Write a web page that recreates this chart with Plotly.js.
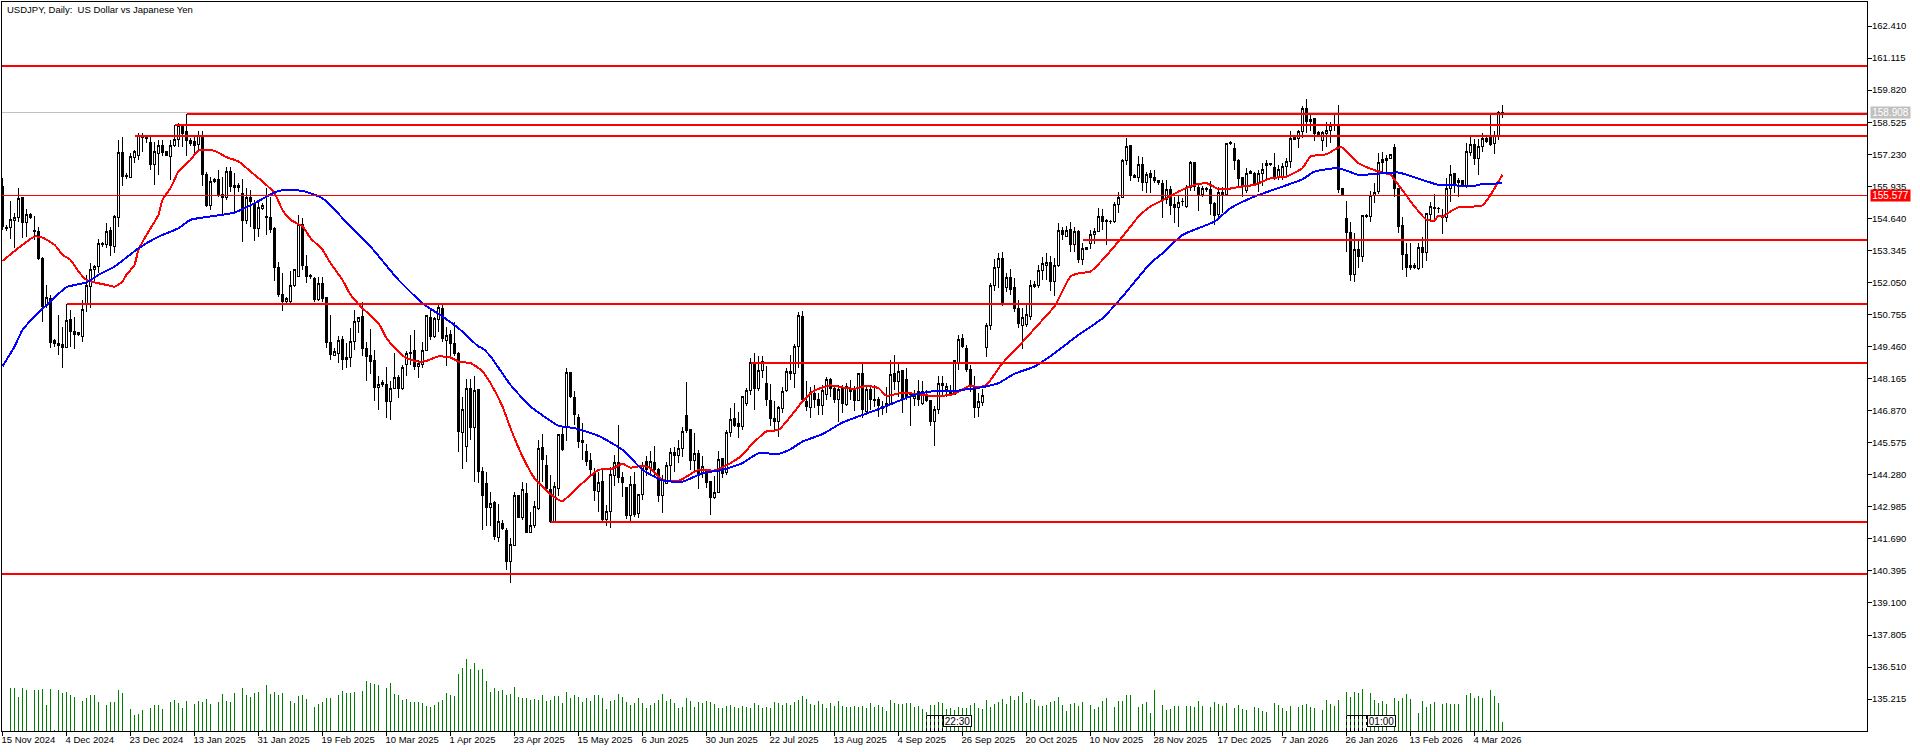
<!DOCTYPE html>
<html>
<head>
<meta charset="utf-8">
<script src="https://cdn.plot.ly/plotly-3.0.1.min.js"></script>
<style>
html,body{margin:0;padding:0;background:#fff}
.main-svg path{shape-rendering:crispEdges}
</style>
</head>
<body>
<div id="chart" style="width:1920px;height:752px"></div>
<script>
var openPrices = [
155.93,154.23,154.27,154.55,154.67,155.48,154.47,154.79,154.13,154.12,
153.03,151.10,151.41,149.69,149.57,149.53,149.42,150.54,150.08,149.95,
149.87,151.18,151.88,152.58,152.69,153.64,153.57,154.13,153.50,154.69,
157.31,156.37,156.30,157.11,157.19,157.97,157.90,157.72,156.80,157.25,
157.60,157.34,157.14,157.57,157.84,158.38,158.13,157.80,157.73,157.61,
157.97,156.42,155.14,156.11,156.20,155.59,155.47,156.55,155.98,155.95,
155.63,154.55,155.49,155.25,154.24,155.04,154.71,154.69,154.24,152.67,
151.55,151.28,151.28,151.94,152.29,154.40,152.69,152.32,152.21,151.37,
152.02,151.45,149.62,149.11,149.19,149.73,148.95,149.03,149.68,150.48,
150.67,149.39,149.08,148.88,147.80,147.92,147.91,147.24,147.78,148.22,
147.76,148.75,149.23,149.29,148.65,148.75,149.30,150.65,149.86,150.57,
151.01,149.70,149.93,149.57,149.19,146.00,145.42,147.76,146.19,147.71,
144.42,143.91,142.95,143.16,141.76,142.32,142.01,140.77,141.41,143.43,
142.54,143.53,141.95,142.21,142.90,145.39,144.64,143.67,142.39,143.72,
145.89,146.23,148.42,147.41,146.61,145.65,145.20,144.84,144.36,143.60,
144.00,142.46,142.79,144.25,144.79,144.18,143.78,142.65,143.90,142.73,
143.48,144.83,144.54,144.79,144.48,143.43,143.94,144.65,145.19,145.06,
145.34,146.66,146.09,144.85,145.12,144.34,144.41,144.00,143.36,143.56,
144.92,144.38,146.00,146.57,146.34,146.23,147.14,147.68,148.83,147.76,
148.49,147.95,147.29,146.57,146.43,146.96,147.68,148.44,148.37,149.46,
150.69,147.24,147.01,147.55,147.33,147.06,147.51,148.14,147.78,147.33,
147.75,147.10,147.71,147.68,147.28,148.36,146.84,147.74,147.33,147.33,
147.04,147.04,147.14,148.36,148.05,148.49,148.14,147.51,147.36,147.64,
147.14,147.44,147.27,146.44,146.93,147.95,147.74,147.68,147.54,148.81,
149.77,149.39,148.54,147.82,147.00,147.20,149.42,150.31,151.91,152.65,
153.03,151.84,152.26,151.83,151.01,150.31,150.34,150.67,151.95,151.91,
152.53,152.72,152.86,152.09,152.72,154.13,153.91,154.18,153.60,154.12,
152.99,153.45,153.64,153.99,154.11,154.73,154.54,154.52,154.50,155.20,
155.48,156.96,157.57,156.38,156.29,156.83,156.09,156.44,156.29,156.15,
156.06,155.39,155.82,155.21,155.08,155.31,155.12,155.89,156.91,155.90,
155.59,155.84,155.79,155.25,154.78,155.68,155.59,157.68,157.45,156.99,
156.30,155.76,156.52,156.44,156.03,156.47,156.76,156.87,156.71,156.29,
156.30,156.73,156.93,157.89,157.88,158.15,159.09,158.55,158.66,158.11,
157.78,158.08,158.19,158.38,158.38,155.83,154.62,154.08,152.36,153.37,
153.10,154.71,154.71,155.57,155.72,157.03,156.96,157.07,157.51,155.86,
154.34,153.19,152.64,152.75,152.61,153.47,153.26,154.81,155.09,155.05,
154.69,154.69,155.86,156.44,156.09,156.17,155.95,157.30,157.64,157.07,
157.54,157.88,157.95,157.68,157.95,158.93
];
var highPrices = [
156.26,154.38,155.35,154.85,155.88,155.52,155.01,154.85,154.74,154.31,
153.07,151.95,151.55,149.76,150.74,150.24,151.18,150.94,150.67,150.05,
151.35,152.36,152.83,152.76,153.80,153.70,154.47,154.31,154.78,157.81,
157.92,156.46,157.27,157.41,158.08,158.08,158.01,158.01,157.74,157.81,
157.81,157.38,157.81,158.42,158.51,158.46,158.86,157.87,158.01,158.17,
158.16,156.53,156.33,156.28,156.60,156.33,156.73,156.73,156.46,156.06,
156.22,155.86,155.79,155.39,155.39,155.25,155.86,155.52,154.31,152.89,
152.42,151.48,152.53,152.56,154.78,154.65,153.17,152.40,152.29,152.29,
152.29,151.48,150.74,149.39,149.87,149.89,149.60,150.20,150.94,150.67,
151.28,149.66,150.16,149.33,148.27,148.11,148.65,148.05,149.19,148.32,
148.72,149.26,149.93,150.13,148.92,149.64,150.74,150.94,150.67,151.14,
151.18,150.24,150.13,150.47,149.22,147.41,148.14,148.14,148.27,147.74,
144.58,144.41,143.60,143.23,143.10,142.46,142.12,141.72,143.57,143.43,
144.00,143.94,142.77,143.20,145.69,145.92,145.08,144.27,143.97,145.89,
146.16,148.61,148.45,147.67,146.73,146.36,145.53,145.15,144.54,144.41,
144.55,143.06,144.61,145.06,146.30,144.41,143.80,144.21,144.38,143.51,
144.81,145.02,145.22,145.45,144.55,144.27,144.81,145.35,145.42,145.69,
146.19,148.02,146.09,145.96,145.29,145.02,144.48,144.03,144.21,145.22,
144.95,146.09,146.97,147.17,146.83,147.44,147.78,148.99,149.19,149.06,
149.06,148.68,147.94,147.24,147.04,147.84,148.59,149.12,149.57,150.85,
150.90,148.05,147.84,147.91,147.57,147.91,148.21,148.18,147.91,147.91,
147.91,148.00,148.11,147.87,148.41,148.76,147.84,147.84,147.91,147.44,
147.24,147.84,148.92,149.12,148.85,148.52,148.59,147.64,147.71,148.11,
148.05,147.71,147.27,147.04,148.25,148.25,148.00,147.91,148.92,149.93,
149.97,149.53,148.72,148.25,147.57,147.74,150.43,152.02,152.99,153.23,
153.27,152.42,152.59,152.22,151.35,151.01,151.14,152.15,152.09,152.76,
153.07,153.23,153.10,153.03,154.44,154.31,154.34,154.48,154.31,154.15,
153.64,153.50,154.18,154.24,155.05,155.01,154.61,154.58,155.32,155.72,
157.03,157.88,157.61,156.44,157.14,157.11,156.53,156.60,156.60,156.15,
156.19,156.17,155.95,155.52,155.59,155.45,155.99,156.96,156.91,156.06,
155.95,155.90,156.13,155.32,155.90,155.90,157.70,157.76,157.68,157.03,
156.33,156.67,156.60,156.53,156.60,156.87,157.00,156.87,157.30,156.80,
156.87,157.07,158.15,157.95,158.22,159.18,159.45,158.82,158.69,158.15,
158.15,158.55,158.55,158.86,159.23,155.86,155.35,154.51,154.04,153.77,
154.78,154.81,155.76,156.06,157.27,157.34,157.18,157.20,157.64,155.86,
154.71,153.66,153.63,152.83,153.66,153.90,154.85,155.32,155.63,155.09,
155.01,156.26,156.80,156.47,156.26,156.19,157.70,157.95,157.84,157.84,
158.08,157.92,158.82,158.15,158.98,159.23
];
var lowPrices = [
154.17,154.11,153.81,153.43,154.51,153.84,153.88,154.62,153.77,152.96,
150.44,151.01,149.42,149.46,149.12,148.61,149.42,149.46,149.35,149.89,
149.66,150.87,151.01,152.09,152.42,153.47,153.43,153.12,153.23,154.31,
155.93,156.24,156.29,156.87,157.00,157.34,157.70,156.60,155.99,156.40,
157.14,157.14,156.20,157.54,157.54,157.51,157.17,157.58,157.20,157.34,
155.93,155.09,154.96,156.06,155.52,154.78,155.39,155.72,154.85,155.72,
153.70,154.42,154.31,153.74,153.90,154.96,153.97,154.04,152.09,151.48,
150.91,151.21,151.21,151.88,152.29,152.56,152.02,152.18,151.28,151.32,
151.28,149.39,148.92,149.08,148.79,148.52,148.58,148.65,149.33,150.00,
149.06,148.07,148.36,147.27,146.90,147.82,146.59,146.50,147.74,147.40,
147.71,148.25,148.72,148.52,148.17,148.58,149.29,149.73,149.82,150.03,
149.66,148.69,149.06,149.06,145.18,144.52,144.81,145.69,143.97,143.94,
142.05,142.19,142.19,141.65,141.58,142.05,140.44,139.90,141.39,142.52,
142.46,141.95,141.92,142.12,142.86,144.00,143.67,142.35,142.35,143.43,
145.22,145.66,147.37,146.30,145.38,144.88,144.64,144.27,143.23,142.79,
142.32,142.19,142.11,143.83,143.94,143.40,142.50,142.43,142.59,142.52,
143.27,144.21,144.34,144.21,143.16,142.75,143.90,144.07,144.41,144.75,
144.99,145.96,144.48,144.41,143.72,144.14,143.74,142.67,143.31,143.53,
144.14,144.27,145.82,146.20,145.76,146.09,147.04,147.51,146.90,147.68,
148.18,147.04,146.25,146.09,145.82,146.77,147.64,148.11,147.78,148.59,
147.24,146.84,146.59,146.97,146.70,146.70,147.31,147.44,147.17,146.41,
146.77,147.06,147.31,146.84,147.24,146.57,146.77,146.90,147.01,146.63,
146.70,146.77,147.10,147.71,147.44,146.79,147.31,146.25,147.04,147.04,
147.10,147.20,146.25,145.45,146.74,147.51,147.44,147.51,147.51,148.52,
149.39,148.45,147.64,146.56,146.63,147.04,149.03,150.13,151.72,151.82,
151.10,151.68,151.55,150.87,150.20,149.35,150.23,150.54,151.82,151.82,
152.15,152.15,151.72,151.52,152.69,153.77,153.90,153.30,153.26,152.83,
152.76,153.37,153.41,153.61,154.07,154.15,153.57,154.42,154.47,154.85,
155.45,156.80,156.15,156.26,156.09,155.76,155.66,155.66,156.06,155.98,
154.65,155.23,154.78,154.47,154.31,155.14,155.05,155.76,155.76,154.92,
155.52,155.72,154.78,154.38,154.69,154.85,155.56,157.61,156.60,155.93,
155.52,155.66,156.44,155.93,155.72,155.93,156.19,156.77,156.19,156.17,
156.19,156.40,156.67,157.81,157.50,157.88,158.08,158.15,157.78,157.99,
157.37,157.51,157.70,158.15,155.66,155.57,153.26,152.09,152.05,152.63,
152.86,154.65,154.51,155.28,155.63,156.49,156.50,157.07,155.52,154.04,
152.56,152.26,152.56,152.58,152.56,152.65,152.90,154.58,154.58,154.87,
154.00,154.51,155.32,155.68,155.52,155.95,155.88,157.14,156.80,156.40,
157.34,157.70,157.57,157.24,157.81,158.71
];
var closePrices = [
154.31,154.26,154.58,154.69,155.45,154.47,154.81,154.66,154.11,153.02,
151.08,151.45,149.63,149.60,149.50,149.42,150.52,150.07,149.96,150.04,
150.94,151.91,152.58,152.68,153.64,153.57,154.12,153.53,154.71,157.31,
156.33,156.32,157.14,157.33,157.97,157.89,157.87,156.80,157.35,157.60,
157.30,157.19,157.60,157.84,158.38,158.08,157.78,157.66,157.60,157.97,
156.40,155.14,156.14,156.22,155.56,155.48,156.55,155.93,155.90,155.88,
154.55,155.49,155.31,154.23,155.09,155.17,154.67,154.20,152.65,151.55,
151.28,151.41,151.94,152.56,154.40,152.72,152.29,152.28,151.37,152.02,
151.39,149.62,149.12,149.26,149.70,148.92,149.03,149.68,150.48,150.62,
149.39,149.06,148.85,147.80,147.94,148.00,147.24,147.78,148.22,147.76,
148.63,149.19,149.18,148.65,148.76,149.29,150.70,149.86,150.58,151.05,
149.78,149.92,149.57,149.16,146.03,146.90,147.78,146.19,147.67,144.41,
143.44,142.95,143.13,141.78,142.38,142.12,140.77,141.47,143.43,142.55,
143.67,141.95,142.24,143.01,145.33,144.88,143.74,142.39,143.80,145.89,
145.29,148.42,147.44,146.70,145.62,145.58,144.81,144.48,143.64,143.98,
142.48,142.79,144.30,144.79,144.18,143.97,142.65,143.90,142.66,143.49,
144.65,144.48,144.83,144.50,143.43,144.07,144.65,145.18,145.04,145.35,
146.03,146.07,144.85,145.15,144.34,144.61,143.97,143.36,143.58,144.91,
144.34,146.00,146.53,146.25,146.23,147.43,147.70,148.83,147.76,148.50,
148.84,147.31,146.55,146.43,146.98,147.66,148.46,148.37,149.47,150.73,
147.33,147.04,147.60,147.33,147.06,147.68,148.14,147.78,147.31,147.74,
147.17,147.84,147.64,147.28,148.36,146.90,147.74,147.33,147.27,147.06,
146.97,147.17,148.34,148.05,148.45,147.35,147.40,147.60,147.47,147.31,
147.64,147.28,146.43,146.93,147.98,147.89,147.84,147.57,148.88,149.76,
149.46,148.52,147.84,147.01,147.23,147.47,150.32,151.91,152.67,153.03,
151.14,152.26,151.78,151.00,150.39,150.65,150.74,151.91,151.89,152.54,
152.83,152.86,152.09,152.72,154.13,153.97,154.16,153.60,154.12,152.99,
153.43,153.38,154.00,154.12,154.73,154.50,154.51,154.50,155.21,155.49,
156.96,157.55,156.37,156.30,156.83,156.09,156.43,156.29,156.15,156.10,
155.39,155.82,155.17,155.08,155.29,155.33,155.90,156.88,155.93,155.59,
155.86,155.79,155.25,154.75,155.68,155.59,157.66,157.70,156.98,156.26,
155.93,156.47,156.47,156.03,156.44,156.63,156.87,156.80,156.29,156.63,
156.75,156.95,157.88,157.84,158.15,159.09,158.55,158.65,158.05,158.03,
158.12,158.19,158.38,158.42,155.82,155.57,154.07,152.37,153.37,153.10,
154.77,154.74,155.57,155.70,156.91,156.90,157.07,157.20,155.86,154.31,
153.19,152.65,152.75,152.64,153.47,153.26,154.82,155.10,155.04,155.02,
154.74,155.86,156.42,155.95,156.18,155.99,157.34,157.64,157.07,157.54,
157.87,157.74,157.61,157.97,158.93,158.91
];
var tickVolume = [
0,0,130,130,103,130,124,0,124,124,127,79,127,3,124,115,118,109,103,0,
91,100,109,109,88,0,79,88,88,124,115,0,67,49,52,64,0,70,79,79,
67,0,88,94,85,70,91,0,82,91,88,97,82,0,88,112,91,88,115,0,
130,109,103,115,118,3,139,112,118,109,115,0,91,85,106,109,97,0,73,82,
88,100,100,0,109,121,115,115,118,0,121,151,145,142,139,0,130,145,112,109,
94,97,88,88,88,85,76,73,79,88,94,115,109,106,172,190,217,187,205,184,
186,150,117,129,120,123,108,111,132,102,99,99,93,96,93,108,90,93,105,105,
84,117,99,108,102,87,99,90,108,108,99,66,90,93,111,102,87,78,84,99,
84,69,78,84,93,111,90,96,84,69,72,99,90,72,87,84,90,87,81,69,
69,75,78,72,69,75,72,69,84,78,69,72,69,87,84,78,84,78,87,93,
105,96,81,78,90,81,69,84,75,90,75,72,72,75,72,75,69,84,72,78,
72,60,93,84,81,81,84,84,72,75,66,57,78,78,87,84,66,69,63,72,
69,69,78,84,69,66,93,72,81,87,96,81,105,93,105,117,84,96,93,75,
75,78,87,90,102,78,60,81,84,75,87,0,78,66,72,90,99,0,72,90,
90,108,108,0,72,81,87,54,123,0,78,63,66,75,75,0,75,75,72,90,
75,0,72,87,81,75,84,0,69,78,66,63,0,72,69,60,57,0,84,78,
69,60,75,0,72,78,81,72,69,0,63,93,81,75,93,0,117,102,117,114,
126,0,114,93,84,90,81,0,99,90,99,111,96,0,54,90,72,81,87,0,
81,84,81,81,81,0,108,114,99,105,99,3,123,105,84,27
];
var ma21Bars = [0,8,10,13,15,17,19,21,23,26,28,30,31,33,34,36,39,40,42,44,47,49,53,56,59,62,65,68,70,72,75,77,80,82,85,87,90,94,96,99,101,104,106,109,112,114,117,119,
120,122,125,127,130,133,135,138,140,144,149,152,155,157,160,162,165,169,174,178,182,185,187,191,194,197,200,203,207,211,213,216,219,221,225,228,232,237,239,
240,242,244,246,250,254,257,260,263,267,269,272,275,280,284,287,291,294,298,301,304,306,310,313,317,321,325,327,331,334,335,339,344,347,349,353,356,358,359,
360,362,364,370,372,375];
var ma21 = [152.92,153.90,153.86,153.57,153.17,152.96,152.49,152.15,152.05,151.95,151.88,152.09,152.36,152.76,153.37,153.97,154.78,155.39,155.86,156.53,157.00,157.38,157.37,157.11,156.94,156.53,156.13,155.66,154.98,154.58,154.31,153.84,153.37,152.83,152.15,151.55,151.01,150.40,149.80,149.26,148.99,148.85,148.88,149.06,149.02,148.85,148.79,148.59,
148.45,147.98,147.04,146.16,145.02,144.14,143.80,143.37,143.22,143.80,144.48,144.50,144.72,144.57,144.64,144.54,144.07,144.03,144.48,144.45,144.75,145.08,145.45,146.03,146.09,146.63,147.24,147.68,147.89,147.78,147.75,147.87,147.78,147.47,147.60,147.55,147.47,147.50,147.64,
147.74,147.87,147.82,147.91,148.79,149.46,150.00,150.54,151.08,152.29,152.42,152.49,152.96,153.90,154.71,155.12,155.45,155.72,155.99,156.06,155.82,155.82,155.93,155.99,156.26,156.33,156.67,157.14,157.23,157.50,157.50,156.87,156.53,156.40,155.99,155.12,154.58,154.55,154.75,
154.71,154.92,155.08,155.16,155.59,156.40];
var ma50Bars = [0,3,5,8,12,16,21,24,28,34,39,44,47,53,58,63,69,75,80,87,92,99,105,110,114,119,
120,122,127,132,139,143,149,155,160,165,170,175,180,185,189,194,197,200,205,210,219,228,232,239,
240,245,249,253,258,263,269,275,280,287,290,295,303,307,313,325,328,334,339,349,355,359,
360,368,370,375];
var ma50 = [148.66,149.46,150.13,150.67,151.28,151.86,152.05,152.36,152.69,153.43,153.90,154.24,154.58,154.74,154.87,155.25,155.75,155.75,155.45,154.31,153.50,152.15,151.21,150.67,150.20,149.46,
149.39,149.06,147.91,147.04,146.26,146.16,145.85,145.29,144.48,144.05,144.00,144.34,144.48,144.75,145.15,145.12,145.31,145.62,145.92,146.39,146.93,147.51,147.64,147.68,
147.71,147.82,147.98,148.36,148.65,149.19,149.93,150.60,151.48,152.83,153.23,153.97,154.51,155.05,155.52,156.22,156.53,156.67,156.40,156.49,156.19,155.99,
155.99,155.95,156.03,156.05];
var levelPrices = [160.795, 158.856, 158.411, 157.967, 153.765, 151.179, 148.795, 142.371, 140.27];
var levelStartBars = [0, 46, 43, 33, 270, 16, 187, 137, 0];
var priceTicks = [162.410,161.115,159.820,158.525,157.230,155.935,154.640,153.345,152.050,150.755,149.460,148.165,146.870,145.575,144.280,142.985,141.690,140.395,139.100,137.805,136.510,135.215];
var dateTickBars = [0,16,32,48,64,80,96,112,128,144,160,176,192,208,224,240,256,272,288,304,320,336,352,368];
var dateTickLabels = ['15 Nov 2024','4 Dec 2024','23 Dec 2024','13 Jan 2025','31 Jan 2025','19 Feb 2025','10 Mar 2025','1 Apr 2025','23 Apr 2025','15 May 2025','6 Jun 2025','30 Jun 2025','22 Jul 2025','13 Aug 2025','4 Sep 2025','26 Sep 2025','20 Oct 2025','10 Nov 2025','28 Nov 2025','17 Dec 2025','7 Jan 2026','26 Jan 2026','13 Feb 2026','4 Mar 2026'];
var askPrice = 158.908;
var linePrice = 155.577;

var bars = [];
for (var i = 0; i < openPrices.length; i++) bars.push(i);

var FONT = 'Liberation Sans, Arial, sans-serif';
var xRange = [-0.125, 466.125];

var candles = {
    type: 'candlestick',
    x: bars,
    open: openPrices,
    high: highPrices,
    low: lowPrices,
    close: closePrices,
    increasing: { line: { color: '#000', width: 1 }, fillcolor: '#fff' },
    decreasing: { line: { color: '#000', width: 1 }, fillcolor: '#000' },
    whiskerwidth: 0,
    hoverinfo: 'skip',
    showlegend: false
};
var volume = {
    type: 'bar',
    x: bars,
    y: tickVolume,
    yaxis: 'y2',
    width: 0.25,
    marker: { color: '#008000', line: { width: 0 } },
    hoverinfo: 'skip',
    showlegend: false
};
var ma21Line = { type: 'scatter', mode: 'lines', x: ma21Bars, y: ma21, line: { color: '#ff0000', width: 2, shape: 'spline', smoothing: 0.5 }, hoverinfo: 'skip', showlegend: false };
var ma50Line = { type: 'scatter', mode: 'lines', x: ma50Bars, y: ma50, line: { color: '#0000ff', width: 2, shape: 'spline', smoothing: 0.5 }, hoverinfo: 'skip', showlegend: false };

var shapes = [
    { type: 'line', xref: 'x', yref: 'y', x0: xRange[0], x1: xRange[1], y0: askPrice, y1: askPrice, layer: 'below', line: { color: '#c0c0c0', width: 1 } },
    { type: 'line', xref: 'x', yref: 'y', x0: xRange[0], x1: xRange[1], y0: linePrice, y1: linePrice, layer: 'above', line: { color: '#ff0000', width: 1 } }
];
levelPrices.forEach(function (p, n) {
    shapes.push({ type: 'line', xref: 'x', yref: 'y', x0: levelStartBars[n] || xRange[0], x1: xRange[1], y0: p, y1: p, layer: 'above', line: { color: '#ff0000', width: 2 } });
});
// dotted event stacks next to the time tags
[231, 232, 233, 234, 235, 336, 337, 338, 339, 340, 341].forEach(function (b) {
    shapes.push({ type: 'line', xref: 'x', yref: 'paper', x0: b, x1: b, y0: 0, y1: 0.0219, layer: 'above', line: { color: '#000', width: 1, dash: 'dot' } });
});
shapes.push({ type: 'line', xref: 'x', yref: 'paper', x0: 231, x1: 235, y0: 0.0219, y1: 0.0219, layer: 'above', line: { color: '#000', width: 1 } });
shapes.push({ type: 'line', xref: 'x', yref: 'paper', x0: 336, x1: 341, y0: 0.0219, y1: 0.0219, layer: 'above', line: { color: '#000', width: 1 } });

function priceTag(y, text, bg) {
    return { xref: 'paper', yref: 'y', x: 1.0016, y: y, xanchor: 'left', yanchor: 'middle', text: text, showarrow: false, bgcolor: bg, width: 39, height: 11, borderpad: 0, font: { family: FONT, size: 10, color: '#fff' } };
}
function timeTag(bar, text) {
    return { xref: 'x', yref: 'paper', x: bar, y: 0.0137, xanchor: 'left', yanchor: 'middle', text: text, showarrow: false, bgcolor: '#fff', bordercolor: '#000', borderwidth: 1, borderpad: 0, width: 27, height: 10, font: { family: FONT, size: 10, color: '#000' } };
}

var layout = {
    width: 1920,
    height: 752,
    paper_bgcolor: '#fff',
    plot_bgcolor: '#fff',
    showlegend: false,
    margin: { l: 2, r: 53, t: 2, b: 21, pad: 0 },
    title: { text: 'USDJPY, Daily:\u00a0 US Dollar vs Japanese Yen', x: 7 / 1920, xref: 'container', xanchor: 'left', y: 1 - 9.5 / 752, yref: 'container', yanchor: 'middle', font: { family: FONT, size: 9.5, color: '#000' } },
    xaxis: {
        range: xRange,
        rangeslider: { visible: false },
        tickmode: 'array',
        tickvals: dateTickBars,
        ticktext: dateTickLabels,
        ticks: 'outside',
        ticklen: 4,
        tickcolor: '#000',
        ticklabelposition: 'outside right',
        ticklabelshift: -2,
        tickangle: 0,
        showgrid: false,
        zeroline: false,
        showline: true,
        linecolor: '#000',
        linewidth: 1,
        mirror: true,
        fixedrange: true,
        tickfont: { family: FONT, size: 9.5, color: '#000' }
    },
    yaxis: {
        range: [133.926, 163.381],
        side: 'right',
        tickmode: 'array',
        tickvals: priceTicks,
        ticktext: priceTicks.map(function (p) { return p.toFixed(3); }),
        ticks: 'outside',
        ticklen: 4,
        tickcolor: '#000',
        ticklabelstandoff: -2,
        showgrid: false,
        zeroline: false,
        showline: true,
        linecolor: '#000',
        linewidth: 1,
        mirror: true,
        fixedrange: true,
        tickfont: { family: FONT, size: 9.5, color: '#000' }
    },
    yaxis2: {
        overlaying: 'y',
        range: [0, 2187],
        visible: false,
        fixedrange: true
    },
    boxgap: 0.5,
    bargap: 0,
    shapes: shapes,
    annotations: [
        priceTag(askPrice, askPrice.toFixed(3), '#c0c0c0'),
        priceTag(linePrice, linePrice.toFixed(3), '#ff0000'),
        timeTag(235, '22:30'),
        timeTag(341, '01:00')
    ]
};

Plotly.newPlot('chart', [candles, ma21Line, ma50Line, volume], layout, { displayModeBar: false, staticPlot: true });
</script>
</body>
</html>
